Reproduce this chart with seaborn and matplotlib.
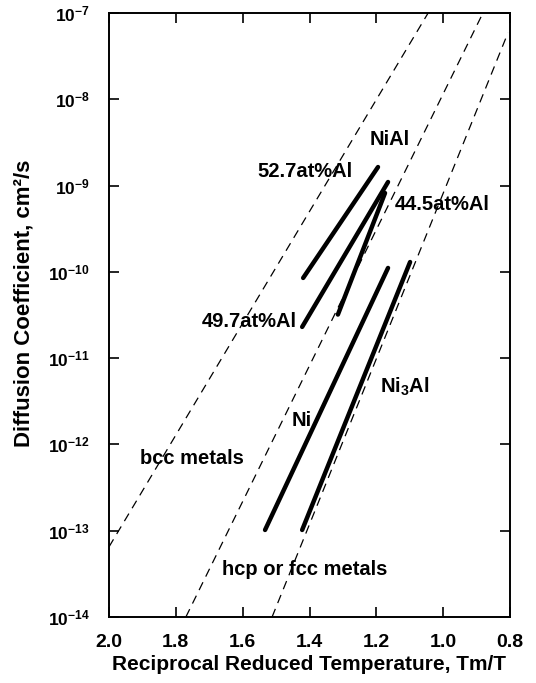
import numpy as np
import pandas as pd
import matplotlib
matplotlib.use("Agg")
import matplotlib.pyplot as plt
import seaborn as sns
from matplotlib.ticker import FixedLocator, FuncFormatter, NullLocator

# ---- data ----
# dashed reference bands: bcc metals, hcp/fcc metals (two bounds)
band_names = ["bcc", "fcc_lo", "fcc_hi"]
band_x0 = [2.000, 1.770, 1.512]
band_x1 = [1.045, 0.881, 0.806]
band_D0 = [6.5e-14, 1.0e-14, 1.0e-14]
band_D1 = [1.0e-7, 1.0e-7, 5.9e-8]

# measured diffusion lines (solid)
alloys = ["52.7at%Al", "49.7at%Al", "44.5at%Al", "Ni", "Ni3Al"]
alloy_x0 = [1.419, 1.422, 1.315, 1.533, 1.422]
alloy_x1 = [1.195, 1.165, 1.174, 1.165, 1.099]
alloy_D0 = [8.5e-11, 2.3e-11, 3.2e-11, 1.02e-13, 1.02e-13]
alloy_D1 = [1.64e-9, 1.10e-9, 8.2e-10, 1.11e-10, 1.30e-10]

x_ticks = [2.0, 1.8, 1.6, 1.4, 1.2, 1.0, 0.8]
y_ticks = [1e-14, 1e-13, 1e-12, 1e-11, 1e-10, 1e-9, 1e-8, 1e-7]

# ---- style ----
sns.set_theme(style="ticks")
plt.rcParams["font.family"] = ["Liberation Sans", "DejaVu Sans"]
plt.rcParams["font.weight"] = "bold"
plt.rcParams["text.color"] = "black"
plt.rcParams["axes.labelcolor"] = "black"
plt.rcParams["xtick.color"] = "black"
plt.rcParams["ytick.color"] = "black"
plt.rcParams["xtick.labelcolor"] = "black"
plt.rcParams["ytick.labelcolor"] = "black"
plt.rcParams["mathtext.fontset"] = "custom"
plt.rcParams["mathtext.rm"] = "Liberation Sans:bold"
plt.rcParams["mathtext.bf"] = "Liberation Sans:bold"
plt.rcParams["mathtext.default"] = "bf"

fig = plt.figure(figsize=(5.36, 6.83), dpi=100)
ax = fig.add_axes([109 / 536, 1 - 617 / 683, (510 - 109) / 536, (617 - 13) / 683])

bands = pd.DataFrame({
    "name": np.repeat(band_names, 2),
    "x": np.ravel(np.column_stack([band_x0, band_x1])),
    "D": np.ravel(np.column_stack([band_D0, band_D1])),
})
for nm in band_names:
    sub = bands[bands["name"] == nm]
    sns.lineplot(data=sub, x="x", y="D", ax=ax, color="black", linewidth=0.9,
                 linestyle=(0, (7, 5)), sort=False, estimator=None)

meas = pd.DataFrame({
    "alloy": np.repeat(alloys, 2),
    "x": np.ravel(np.column_stack([alloy_x0, alloy_x1])),
    "D": np.ravel(np.column_stack([alloy_D0, alloy_D1])),
})
for nm in alloys:
    sub = meas[meas["alloy"] == nm]
    sns.lineplot(data=sub, x="x", y="D", ax=ax, color="black", linewidth=3.2,
                 sort=False, estimator=None, solid_capstyle="round")

ax.set_yscale("log")
ax.set_xlim(2.0, 0.8)
ax.set_ylim(1e-14, 1e-7)
ax.xaxis.set_major_locator(FixedLocator(x_ticks))
ax.xaxis.set_major_formatter(FuncFormatter(lambda v, p: f"{v:.1f}"))
ax.yaxis.set_major_locator(FixedLocator(y_ticks))
ax.yaxis.set_minor_locator(NullLocator())
ax.yaxis.set_major_formatter(FuncFormatter(
    lambda v, p: r"$\mathbf{10^{%d}}$" % int(round(np.log10(v)))))
ax.tick_params(axis="both", which="major", direction="in", length=7, width=1.2,
               top=True, right=True, colors="black")
ax.tick_params(axis="x", labelsize=14, pad=12)
ax.tick_params(axis="y", labelsize=12.5, pad=14)
for lab in ax.get_xticklabels() + ax.get_yticklabels():
    lab.set_fontweight("bold")
    lab.set_color("black")
for s in ax.spines.values():
    s.set_visible(True)
    s.set_linewidth(1.4)
    s.set_color("black")

ax.set_xlabel("Reciprocal Reduced Temperature, Tm/T", fontsize=15,
              fontweight="bold", color="black", labelpad=3)
ax.set_ylabel("Diffusion Coefficient, cm²/s", fontsize=16,
              fontweight="bold", color="black")
ax.yaxis.set_label_coords(-0.185, 0.52)

fs = 14.5
kw = dict(fontsize=fs, fontweight="bold", color="black", va="center")
ax.text(1.159, 10**-8.47, "NiAl", ha="center", **kw)
ax.text(1.270, 10**-8.84, "52.7at%Al", ha="right", **kw)
ax.text(1.144, 10**-9.225, "44.5at%Al", ha="left", **kw)
ax.text(1.722, 10**-10.57, "49.7at%Al", ha="left", **kw)
ax.text(1.422, 10**-11.72, "Ni", ha="center", **kw)
ax.text(1.189, 10**-11.33, r"Ni$_{3}$Al", ha="left", **kw)
ax.text(1.907, 10**-12.16, "bcc metals", ha="left", **kw)
ax.text(1.662, 10**-13.455, "hcp or fcc metals", ha="left", **kw)

fig.savefig("out.png", dpi=100, facecolor="white")
